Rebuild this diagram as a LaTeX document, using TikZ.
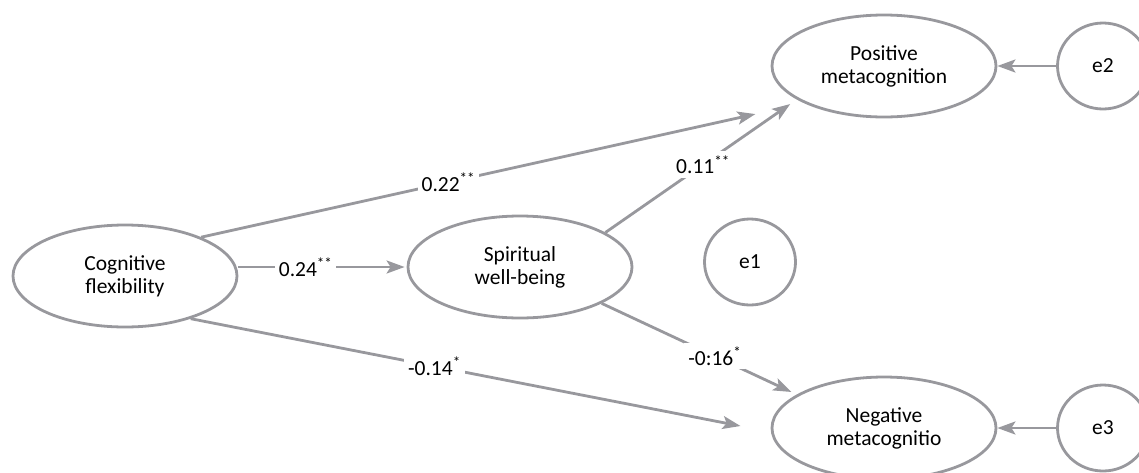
\documentclass[tikz,border=0pt]{standalone}
\usepackage{fontspec}
\setmainfont{Carlito}
\usetikzlibrary{shapes.geometric,arrows.meta}
\definecolor{PathLine}{RGB}{152,152,157}
\tikzset{
  nd_var/.style={ellipse,draw=PathLine,line width=2.8pt,minimum width=224pt,minimum height=102pt,inner sep=0pt,align=center,font=\fontsize{21.5}{23}\selectfont},
  nd_err/.style={ellipse,draw=PathLine,line width=2.8pt,minimum width=91pt,minimum height=86pt,inner sep=0pt,font=\fontsize{21.5}{23}\selectfont},
  arr/.style={-{Stealth[length=18pt,width=13pt,inset=4pt]},draw=PathLine,line width=2.8pt},
  lbl/.style={fill=white,inner sep=4pt,font=\fontsize{21.5}{23}\selectfont},
}

\begin{document}
\begin{tikzpicture}[x=1pt,y=-1pt]
\useasboundingbox (0,0) rectangle (1139,472);
\clip (0,0) rectangle (1139,472);
% variables
\node[nd_var] at (125,276)(CF){Cognitive\\flexibility};
\node[nd_var] at (520,267)(SW){Spiritual\\well-being};
\node[nd_var] at (884,66)(PM){Positive\\metacognition};
\node[nd_var] at (884,428)(NM){Negative\\metacognitio};
% errors
\node[nd_err] at (750,262)(E1){e1};
\node[nd_err] at (1103,66)(E2){e2};
\node[nd_err] at (1103,428)(E3){e3};
% paths
\draw[arr,shorten >=50pt](CF.27.5)--node[lbl,pos=0.41]{0.22\textsuperscript{**}}(PM.205);
\draw[arr,shorten >=2pt](CF.east |- SW.west)--node[lbl,pos=0.4]{0.24\textsuperscript{**}}(SW.west);
\draw[arr,shorten >=31pt](CF.-33)--node[lbl,pos=0.42]{-0.14\textsuperscript{*}}(NM.182.5);
\draw[arr,shorten >=8pt](SW.22)--node[lbl,pos=0.51]{0.11\textsuperscript{**}}(PM.201);
\draw[arr,shorten >=6pt](SW.-24.6)--node[lbl,pos=0.58]{-0:16\textsuperscript{*}}(NM.159);
\draw[arr](E2)--(PM);
\draw[arr](E3)--(NM);
\end{tikzpicture}
\end{document}
